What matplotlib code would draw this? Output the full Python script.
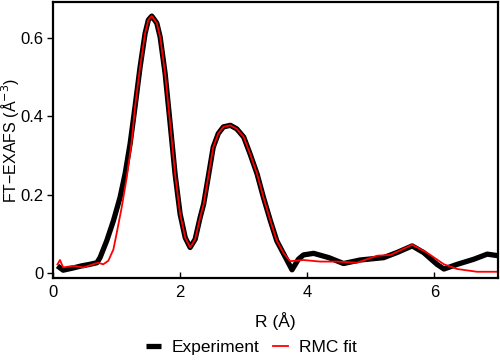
import matplotlib
matplotlib.use("Agg")
import matplotlib.pyplot as plt

plt.rcParams['font.family'] = ['Liberation Sans', 'DejaVu Sans']

# experiment (black, thick)
r_exp = [0.07, 0.16, 0.3, 0.45, 0.58, 0.69, 0.74, 0.845, 0.95, 1.055, 1.134, 1.213, 1.29, 1.37,
         1.449, 1.5, 1.554, 1.633, 1.685, 1.764, 1.843, 1.92, 2.0, 2.08, 2.157, 2.236, 2.315,
         2.37, 2.45, 2.52, 2.6, 2.68, 2.79, 2.89, 3.0, 3.1, 3.21, 3.31, 3.42, 3.52, 3.63, 3.76,
         3.86, 3.94, 4.1, 4.34, 4.57, 4.83, 5.2, 5.41, 5.65, 5.83, 6.04, 6.15, 6.36, 6.62,
         6.83, 7.0]
ft_exp = [0.018, 0.007, 0.012, 0.018, 0.022, 0.026, 0.039, 0.082, 0.133, 0.193, 0.253, 0.33, 0.424, 0.526,
          0.612, 0.646, 0.656, 0.638, 0.603, 0.509, 0.381, 0.253, 0.15, 0.09, 0.065, 0.086, 0.142,
          0.176, 0.253, 0.321, 0.356, 0.373, 0.377, 0.368, 0.347, 0.304, 0.253, 0.193, 0.133, 0.082, 0.048, 0.008,
          0.035, 0.046, 0.05, 0.039, 0.024, 0.033, 0.039, 0.052, 0.069, 0.052, 0.022, 0.01, 0.022, 0.035,
          0.048, 0.044]

# RMC fit (red, thin)
r_fit = [0.07, 0.11, 0.16, 0.32, 0.48, 0.63, 0.71, 0.79, 0.87, 0.95, 1.0, 1.08, 1.16, 1.24, 1.29,
         1.37, 1.449, 1.5, 1.554, 1.633, 1.685, 1.764, 1.843, 1.92, 2.0, 2.08, 2.157, 2.236, 2.315,
         2.37, 2.45, 2.52, 2.6, 2.68, 2.79, 2.89, 3.0, 3.1, 3.21, 3.31, 3.42, 3.52, 3.63, 3.73,
         3.94, 4.2, 4.47, 4.78, 5.1, 5.31, 5.65, 5.88, 6.15, 6.36, 6.67, 7.0]
ft_fit = [0.022, 0.033, 0.014, 0.018, 0.014, 0.022, 0.026, 0.022, 0.031, 0.06, 0.1, 0.167, 0.244, 0.338, 0.424,
          0.526, 0.612, 0.646, 0.656, 0.638, 0.603, 0.509, 0.381, 0.253, 0.15, 0.09, 0.065, 0.086, 0.142,
          0.176, 0.253, 0.321, 0.356, 0.373, 0.377, 0.368, 0.347, 0.304, 0.253, 0.193, 0.133, 0.082, 0.05, 0.03,
          0.033, 0.029, 0.029, 0.026, 0.044, 0.046, 0.072, 0.052, 0.022, 0.01, 0.003, 0.003]

fig = plt.figure(figsize=(5, 3.62), dpi=100)
ax = fig.add_axes([0.106, 0.232, 0.89, 0.7625])

ax.plot(r_exp, ft_exp, color='black', lw=3.8, label='Experiment',
        solid_joinstyle='round', solid_capstyle='butt')
ax.plot(r_fit, ft_fit, color='red', lw=1.3, label='RMC fit', solid_joinstyle='round')

ax.set_xlim(0, 7)
ax.set_ylim(-0.013, 0.692)
ax.set_xticks([0, 2, 4, 6])
ax.set_yticks([0, 0.2, 0.4, 0.6])
ax.set_yticklabels(['0', '0.2', '0.4', '0.6'])
ax.tick_params(axis='x', direction='in', labelsize=12, length=4, width=1, pad=5)
ax.tick_params(axis='y', direction='out', labelsize=12, length=4, width=1, pad=3)
for s in ax.spines.values():
    s.set_linewidth(1.6)

ax.set_xlabel('R (Å)', fontsize=12.5, labelpad=9)
ax.set_ylabel('FT\u2212EXAFS (Å$^{-3}$)', fontsize=11.5)
ax.yaxis.set_label_coords(-0.072, 0.5)

fig.legend(loc='center', bbox_to_anchor=(0.502, 0.041), ncol=2, frameon=False,
           fontsize=12.5, handlelength=0.9, columnspacing=0.75, handletextpad=0.6)

fig.savefig('out.png', dpi=100)
